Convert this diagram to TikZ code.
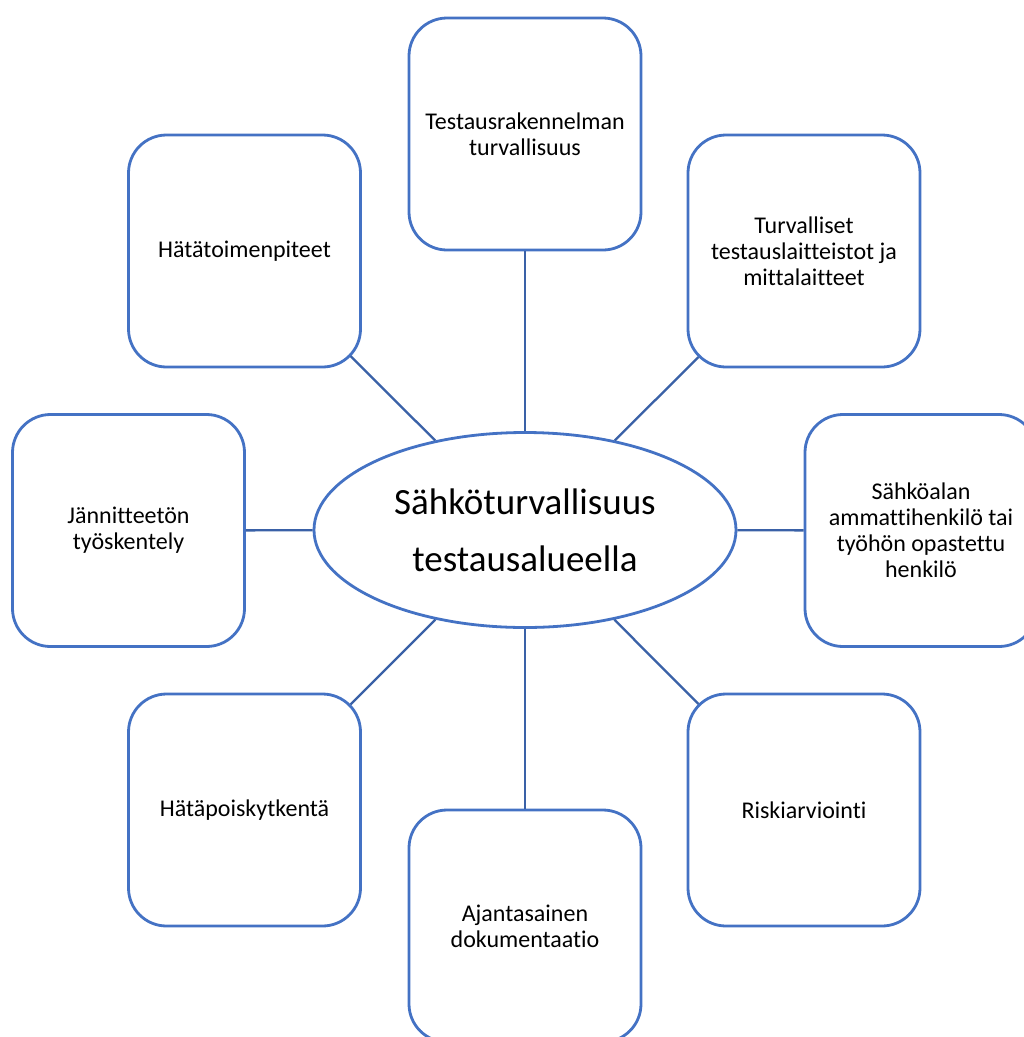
\documentclass[tikz,border=0pt]{standalone}
\usepackage{fontspec}
\setmainfont{Carlito}[Ligatures=CommonOff]
\usetikzlibrary{shapes.geometric}
\definecolor{linkblue}{HTML}{4472C4}
\tikzset{
  topicbox/.style={rectangle, rounded corners=38pt, draw=linkblue, fill=white,
                   line width=2.8pt, minimum width=232pt, minimum height=232pt,
                   align=center, font=\fontsize{24}{26}\selectfont},
  hub/.style={ellipse, draw=linkblue, fill=white, line width=2.8pt,
              minimum width=422pt, minimum height=195pt, inner sep=0pt,
              align=center, font=\fontsize{37}{57}\selectfont},
  link/.style={draw=linkblue!85!black, line width=2.3pt},
  diaglink/.style={link, shorten >=-16pt},
}

\begin{document}
\begin{tikzpicture}[x=1pt, y=-1pt]
  % page
  \path[use as bounding box, fill=white] (0,0) rectangle (1024,1037);

  % centre
  \node[hub] (hub) at (525,530) {Sähköturvallisuus\\testausalueella};

  % topics round the centre
  \node[topicbox] (top) at (525,134) {Testausrakennelman\\turvallisuus};
  \node[topicbox] (topleft) at (244.5,251) {Hätätoimenpiteet};
  \node[topicbox] (topright) at (804,251) {Turvalliset\\testauslaitteistot ja\\mittalaitteet};
  \node[topicbox] (left) at (128.5,530.5) {Jännitteetön\\työskentely};
  \node[topicbox] (right) at (921,530.5) {Sähköalan\\ammattihenkilö tai\\työhön opastettu\\henkilö};
  \node[topicbox] (botleft) at (244.5,810) {Hätäpoiskytkentä};
  \node[topicbox] (botright) at (804,810) {Riskiarviointi};
  \node[topicbox] (bottom) at (525,926) {Ajantasainen\\dokumentaatio};

  % connectors
  \draw[link] (hub) -- (top);
  \draw[link] (hub) -- (left);
  \draw[link] (hub) -- (right);
  \draw[link] (hub) -- (bottom);
  \draw[diaglink] (hub) -- (topleft);
  \draw[diaglink] (hub) -- (topright);
  \draw[diaglink] (hub) -- (botleft);
  \draw[diaglink] (hub) -- (botright);
\end{tikzpicture}
\end{document}
